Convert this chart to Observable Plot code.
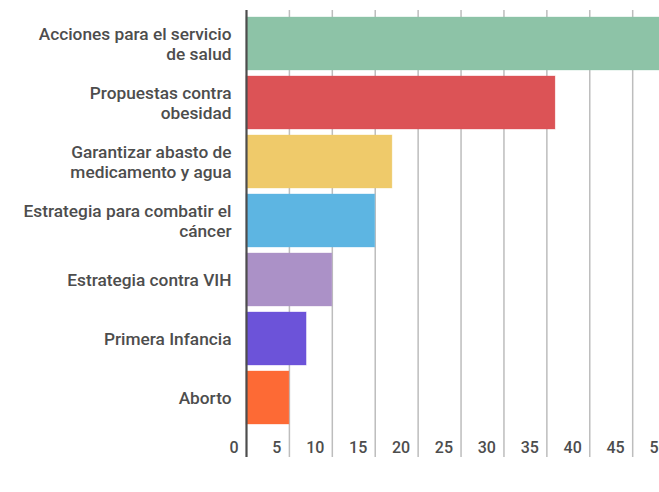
<!DOCTYPE html>
<html>
<head>
<meta charset="utf-8">
<script src="https://cdn.jsdelivr.net/npm/d3@7"></script>
<script src="https://cdn.jsdelivr.net/npm/@observablehq/plot@0.6"></script>
<style>
  html, body { margin: 0; padding: 0; background: #fff; overflow: hidden; }
  #chart { width: 659px; height: 492px; overflow: hidden; }
  #chart svg { display: block; max-width: none !important; }
</style>
</head>
<body>
<div id="chart"></div>
<script>
const categories = [
  "Acciones para el servicio\nde salud",
  "Propuestas contra\nobesidad",
  "Garantizar abasto de\nmedicamento y agua",
  "Estrategia para combatir el\ncáncer",
  "Estrategia contra VIH",
  "Primera Infancia",
  "Aborto"
];
const values = [54, 36, 17, 15, 10, 7, 5];
const colors = ["#8dc3a7", "#dc5356", "#efca6a", "#5db5e2", "#ab91c7", "#6c53d9", "#fd6a35"];
const xTicks = [0, 5, 10, 15, 20, 25, 30, 35, 40, 45, 50, 55];

const data = categories.map((c, i) => ({category: c, value: values[i], color: colors[i]}));

const chart = Plot.plot({
  width: 718,
  height: 492,
  marginLeft: 246,
  marginRight: 0,
  marginTop: 10,
  marginBottom: 35,
  style: {fontFamily: "Roboto, sans-serif", background: "#fff", maxWidth: "none"},
  x: {domain: [0, 55], axis: null, label: null},
  y: {domain: categories, range: [13.4, 428], paddingInner: 0.11, paddingOuter: 0.055, axis: null},
  marks: [
    Plot.ruleX(xTicks.filter(d => d > 0), {stroke: "#bdbdbd", strokeWidth: 1.5}),
    Plot.barX(data, {x: "value", y: "category", fill: "color", stroke: "color", strokeOpacity: 0.35, strokeWidth: 1}),
    Plot.ruleX([0], {stroke: "#4d4d4d", strokeWidth: 2.2}),
    Plot.text(data, {
      x: 0, y: "category", text: "category",
      textAnchor: "end", dx: -15, lineHeight: 1.13,
      fontSize: 17.3, fontWeight: 500, fill: "#4d4d4d"
    }),
    Plot.axisX(xTicks, {
      anchor: "bottom", tickSize: 0, tickPadding: 0, lineAnchor: "middle",
      dy: -10, dx: -8, textAnchor: "end", label: null,
      fontSize: 16, fontWeight: 500, fill: "#4d4d4d"
    })
  ]
});
document.getElementById("chart").appendChild(chart);
</script>
</body>
</html>
